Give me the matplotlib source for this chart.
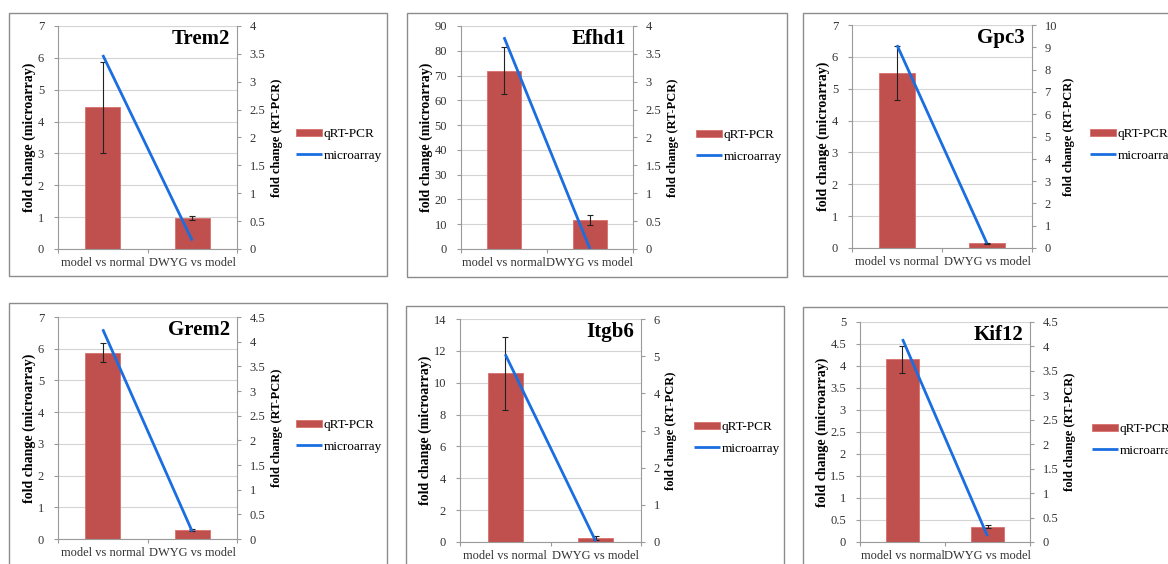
import matplotlib
matplotlib.use("Agg")
import matplotlib.pyplot as plt
from matplotlib.patches import Rectangle
from matplotlib.ticker import FormatStrFormatter, MultipleLocator
import numpy as np

W, H = 1168, 564

categories = ["model vs normal", "DWYG vs model"]

genes = ["Trem2", "Efhd1", "Gpc3", "Grem2", "Itgb6", "Kif12"]

# bar values (left axis), error bars, line values (right axis)
trem2_bar = [4.45, 0.98]
trem2_err = [1.43, 0.06]
trem2_line = [3.48, 0.15]

efhd1_bar = [72.0, 11.7]
efhd1_err = [9.6, 2.0]
efhd1_line = [3.80, 0.0]

gpc3_bar = [5.5, 0.15]
gpc3_err = [0.85, 0.02]
gpc3_line = [9.1, 0.2]

grem2_bar = [5.87, 0.28]
grem2_err = [0.30, 0.02]
grem2_line = [4.25, 0.15]

itgb6_bar = [10.6, 0.25]
itgb6_err = [2.3, 0.15]
itgb6_line = [5.05, 0.02]

kif12_bar = [4.15, 0.35]
kif12_err = [0.30, 0.04]
kif12_line = [4.15, 0.12]

# left axis (max, step), right axis (max, step)
left_scale = [(7, 1), (90, 10), (7, 1), (7, 1), (14, 2), (5, 0.5)]
right_scale = [(4, 0.5), (4, 0.5), (10, 1), (4.5, 0.5), (6, 1), (4.5, 0.5)]

bars = [trem2_bar, efhd1_bar, gpc3_bar, grem2_bar, itgb6_bar, kif12_bar]
errs = [trem2_err, efhd1_err, gpc3_err, grem2_err, itgb6_err, kif12_err]
lines = [trem2_line, efhd1_line, gpc3_line, grem2_line, itgb6_line, kif12_line]

# layout in pixels
boxes = [(9, 13, 387, 276), (407, 13, 787, 277), (803, 13, 1200, 276),
         (9, 303, 387, 600), (406, 306, 784, 600), (803, 307, 1200, 600)]
axes_px = [(58, 26, 237, 249), (461, 26, 633, 249), (852, 25, 1032, 248),
           (58, 317, 237, 539), (460, 319, 641, 542), (860, 322, 1030, 542)]
legend_px = [(296, 145), (696, 146), (1090, 145),
             (296, 436), (694, 438), (1092, 440)]

BAR_C = "#c0504d"
LINE_C = "#1a6ee0"
GRID_C = "#d4d4d4"
SPINE_C = "#9a9a9a"
TXT_C = "#333333"
FONT = "Liberation Serif"
TICK_FS = 9

plt.rcParams["font.family"] = FONT

fig = plt.figure(figsize=(W / 100, H / 100), dpi=100)
fig.patch.set_facecolor("white")

for i in range(6):
    bx0, by0, bx1, by1 = boxes[i]
    fig.patches.append(Rectangle((bx0 / W, 1 - by1 / H), (bx1 - bx0) / W, (by1 - by0) / H,
                                 transform=fig.transFigure, fill=False,
                                 edgecolor="#8c8c8c", lw=1.0, zorder=0))
    x0, y0, x1, y1 = axes_px[i]
    ax = fig.add_axes([x0 / W, 1 - y1 / H, (x1 - x0) / W, (y1 - y0) / H])
    ax.set_facecolor("none")
    xs = np.arange(len(categories))
    lmax, lstep = left_scale[i]
    rmax, rstep = right_scale[i]

    b = ax.bar(xs, bars[i], width=0.39, color=BAR_C, edgecolor="#d8706c", lw=0.6,
               zorder=2, label="qRT-PCR")
    ax.errorbar(xs, bars[i], yerr=errs[i], fmt="none", ecolor="#222222",
                elinewidth=0.8, capsize=2.5, capthick=0.8, zorder=3)
    ax.set_ylim(0, lmax)
    ax.set_xlim(-0.5, 1.5)
    ax.yaxis.set_major_locator(MultipleLocator(lstep))
    ax.yaxis.set_major_formatter(FormatStrFormatter("%g"))
    ax.grid(axis="y", color=GRID_C, lw=0.8, zorder=0)
    ax.set_axisbelow(True)
    ax.set_xticks([-0.5, 0.5, 1.5], minor=False)
    ax.set_xticklabels([])
    ax.set_xticks(xs, minor=True)
    ax.set_xticklabels(categories, minor=True)
    ax.tick_params(axis="x", which="major", length=3, color=SPINE_C, direction="out")
    ax.tick_params(axis="x", which="minor", length=0, pad=6, labelsize=TICK_FS, labelcolor=TXT_C)
    ax.tick_params(axis="y", length=3, color=SPINE_C, labelsize=TICK_FS, labelcolor=TXT_C, pad=7)
    for s in ["top", "right"]:
        ax.spines[s].set_visible(False)
    for s in ["left", "bottom"]:
        ax.spines[s].set_color(SPINE_C)
        ax.spines[s].set_linewidth(0.8)
    ax.set_ylabel("fold change (microarray)", fontsize=10, fontweight="bold", labelpad=1)

    ax2 = ax.twinx()
    l, = ax2.plot(xs, lines[i], color=LINE_C, lw=2.0, zorder=4, label="microarray",
                  solid_capstyle="butt")
    ax2.set_ylim(0, rmax)
    ax2.yaxis.set_major_locator(MultipleLocator(rstep))
    ax2.yaxis.set_major_formatter(FormatStrFormatter("%g"))
    ax2.tick_params(axis="y", length=3, color=SPINE_C, labelsize=TICK_FS, labelcolor=TXT_C, pad=6)
    for s in ["top", "left", "bottom"]:
        ax2.spines[s].set_visible(False)
    ax2.spines["right"].set_color(SPINE_C)
    ax2.spines["right"].set_linewidth(0.8)
    ax2.set_ylabel("fold change (RT-PCR)", fontsize=9, fontweight="bold", labelpad=4)

    ax2.text(0.96, 0.985, genes[i], transform=ax.transAxes, ha="right", va="top",
             fontsize=15, fontweight="bold", color="black", zorder=6)

    lx, ly = legend_px[i]
    fig.legend([b, l], ["qRT-PCR", "microarray"], loc="center left",
               bbox_to_anchor=(lx / W, 1 - ly / H), frameon=False, fontsize=9.5,
               handlelength=2.0, handleheight=0.45, handletextpad=0.1,
               labelspacing=0.7, borderaxespad=0, borderpad=0)

fig.savefig("out.png", dpi=100, facecolor="white")
